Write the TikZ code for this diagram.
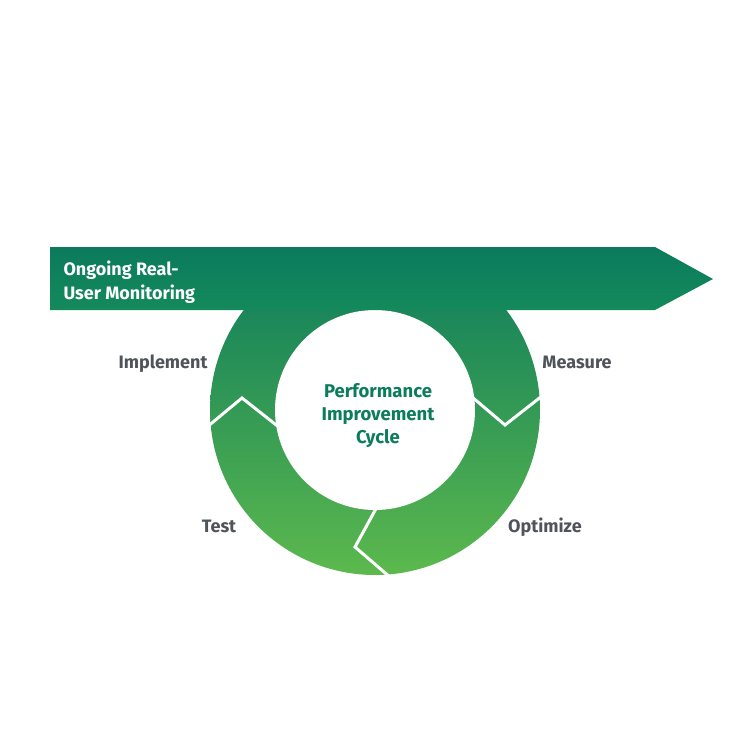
\documentclass[tikz,border=0pt]{standalone}
\usepackage{fontspec}
\setmainfont{Fira Sans}
\usetikzlibrary{positioning}
\definecolor{Topcol}{HTML}{0B7A5D}
\definecolor{Bancol}{HTML}{148A5B}
\definecolor{Botcol}{HTML}{5CB94D}
\definecolor{Labcol}{HTML}{4F535A}
\definecolor{Midcol}{HTML}{0B7D5B}
\def\ringR{165pt}
\def\holeR{100pt}

\begin{document}
\begin{tikzpicture}[x=1pt, y=-1pt,
  phase/.style={anchor=base, text=Labcol, font=\fontsize{18}{20}\selectfont\bfseries},
  divider/.style={white, line width=3pt}]
  \useasboundingbox (0,0) rectangle (750,749);

  \begin{scope}
    \clip (0,290) rectangle (750,749);
    \shade[top color=Topcol, bottom color=Botcol] (375,410) circle (\ringR);
  \end{scope}
  \fill[white] (375,410) circle (\holeR);

  \shade[top color=Topcol, bottom color=Bancol] (50,247) -- (655,247) -- (713,279) -- (655,310) -- (50,310) -- cycle;

  \draw[divider] (207,427) -- (242,398) -- (280,428);
  \draw[divider] (542,396) -- (505,425) -- (472,397);
  \draw[divider] (378,505) -- (355,547) -- (391,578);

  \node[anchor=north west, align=left, text=white, font=\fontsize{18}{24}\selectfont\bfseries] (rum) at (60,257) {Ongoing Real-\\User Monitoring};
  \node[align=center, text=Midcol, font=\fontsize{18.5}{23}\selectfont\bfseries] (cycle) at (378,416) {Performance\\Improvement\\Cycle};

  \node[phase] (implement) at (163,368) {Implement};
  \node[phase] (measure) at (577,368) {Measure};
  \node[phase] (test) at (219,532) {Test};
  \node[phase] (optimize) at (545,532) {Optimize};
\end{tikzpicture}
\end{document}
